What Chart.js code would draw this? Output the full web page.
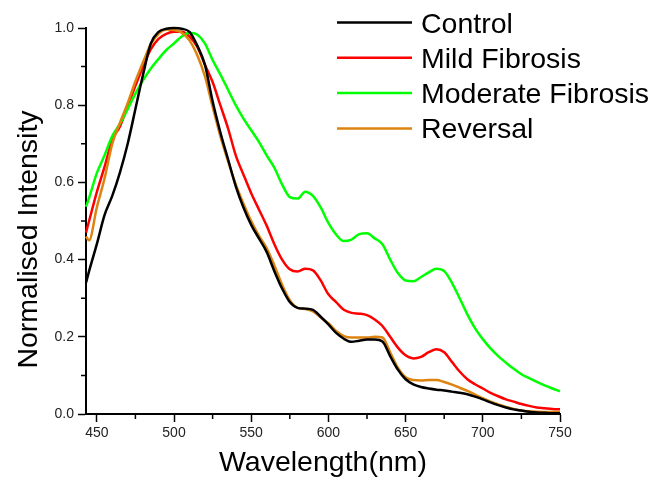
<!DOCTYPE html>
<html>
<head>
<meta charset="utf-8">
<script src="https://cdn.jsdelivr.net/npm/chart.js@4.4.1/dist/chart.umd.min.js"></script>
<style>
  html, body { margin: 0; padding: 0; background: #fff; }
  #wrap { position: relative; width: 653px; height: 481px; }
</style>
</head>
<body>
<div id="wrap"><canvas id="chart"></canvas></div>
<script>
// wavelength (nm) for every sample
const wavelengths = [443, 445, 450, 455, 460, 465, 470, 475, 480, 485, 490, 495, 500, 505, 510, 515, 520, 525, 530, 535,
    540, 545, 550, 555, 560, 565, 570, 575, 580, 585, 590, 595, 600, 605, 610, 615, 620, 625, 630, 635,
    640, 645, 650, 655, 660, 665, 670, 675, 680, 685, 690, 695, 700, 705, 710, 715, 720, 725, 730, 735,
    740, 745, 750];

const control = [0.34, 0.37, 0.44, 0.515, 0.565, 0.626, 0.70, 0.79, 0.88, 0.96, 0.99, 0.998, 1.0, 0.998, 0.99, 0.955, 0.905, 0.81, 0.73, 0.66,
    0.59, 0.535, 0.49, 0.455, 0.42, 0.37, 0.325, 0.29, 0.275, 0.273, 0.27, 0.252, 0.232, 0.21, 0.195, 0.187, 0.19, 0.193, 0.193, 0.188,
    0.15, 0.115, 0.09, 0.077, 0.07, 0.066, 0.063, 0.061, 0.058, 0.055, 0.051, 0.045, 0.038, 0.030, 0.023, 0.017, 0.012, 0.009, 0.006, 0.004,
    0.003, 0.002, 0.002];

const mildFibrosis = [0.47, 0.50, 0.575, 0.64, 0.71, 0.745, 0.797, 0.85, 0.90, 0.945, 0.972, 0.985, 0.99, 0.99, 0.978, 0.952, 0.905, 0.86, 0.80, 0.74,
    0.67, 0.62, 0.572, 0.53, 0.488, 0.44, 0.40, 0.375, 0.369, 0.376, 0.372, 0.346, 0.31, 0.29, 0.27, 0.262, 0.26, 0.256, 0.245, 0.228,
    0.20, 0.172, 0.152, 0.144, 0.148, 0.16, 0.168, 0.16, 0.135, 0.11, 0.09, 0.077, 0.066, 0.055, 0.046, 0.038, 0.032, 0.026, 0.021, 0.017,
    0.015, 0.013, 0.012];

const moderateFibrosis = [0.537, 0.56, 0.624, 0.67, 0.72, 0.752, 0.79, 0.83, 0.865, 0.895, 0.92, 0.943, 0.96, 0.978, 0.988, 0.983, 0.96, 0.917, 0.88, 0.84,
    0.80, 0.765, 0.735, 0.705, 0.67, 0.638, 0.595, 0.562, 0.558, 0.576, 0.565, 0.535, 0.495, 0.465, 0.448, 0.452, 0.466, 0.468, 0.455, 0.44,
    0.40, 0.365, 0.346, 0.344, 0.355, 0.367, 0.376, 0.37, 0.34, 0.30, 0.258, 0.222, 0.194, 0.17, 0.15, 0.133, 0.117, 0.103, 0.093, 0.083,
    0.074, 0.066, 0.059];

const reversal = [0.46, 0.45, 0.535, 0.61, 0.70, 0.755, 0.805, 0.862, 0.912, 0.958, 0.985, 0.996, 0.995, 0.988, 0.968, 0.93, 0.875, 0.796, 0.72, 0.655,
    0.595, 0.545, 0.50, 0.462, 0.43, 0.385, 0.335, 0.295, 0.275, 0.272, 0.266, 0.25, 0.235, 0.215, 0.202, 0.198, 0.198, 0.198, 0.2, 0.198,
    0.16, 0.12, 0.095, 0.088, 0.087, 0.088, 0.088, 0.083, 0.076, 0.068, 0.06, 0.05, 0.041, 0.032, 0.025, 0.018, 0.013, 0.009, 0.007, 0.006,
    0.005, 0.005, 0.005];

const seriesNames  = ['Control', 'Mild Fibrosis', 'Moderate Fibrosis', 'Reversal'];
const seriesColors = ['#000000', '#ff0000', '#00ff00', '#dd8410'];

const xTicks      = [450, 500, 550, 600, 650, 700, 750];
const xMinorTicks = [475, 525, 575, 625, 675, 725];
const yTicks      = [0, 0.2, 0.4, 0.6, 0.8, 1.0];
const yMinorTicks = [0.1, 0.3, 0.5, 0.7, 0.9];

const FONT = "'Liberation Sans', Arial, sans-serif";

const toPoints = vals => wavelengths.map((x, i) => ({ x, y: vals[i] }));
const allSeries = [control, mildFibrosis, moderateFibrosis, reversal];

const datasets = allSeries.map((vals, i) => ({
    label:            seriesNames[i],
    data:             toPoints(vals),
    borderColor:      seriesColors[i],
    backgroundColor:  seriesColors[i],
    borderWidth:      2.5,
    pointRadius:      0,
    cubicInterpolationMode: 'monotone',
    clip:             false,
    order:            i === 0 ? 0 : 4 - i,
}));

// minor tick marks, drawn outward like the major ones
const minorTicks = {
    id: 'minorTicks',
    afterDraw(chart) {
        const { ctx, scales: { x, y } } = chart;
        ctx.save();
        ctx.strokeStyle = '#000';
        ctx.lineWidth = 1.5;
        ctx.beginPath();
        for (const v of xMinorTicks) {
            const px = x.getPixelForValue(v);
            ctx.moveTo(px, x.top);
            ctx.lineTo(px, x.top + 5);
        }
        for (const v of yMinorTicks) {
            const py = y.getPixelForValue(v);
            ctx.moveTo(y.right, py);
            ctx.lineTo(y.right - 5, py);
        }
        ctx.stroke();
        ctx.restore();
    },
};

// y title sits a bit below the axis centre in the original, so place it by hand
const yTitle = {
    id: 'yTitle',
    afterDraw(chart) {
        const { ctx } = chart;
        ctx.save();
        ctx.font = `28.5px ${FONT}`;
        ctx.fillStyle = '#000';
        ctx.textAlign = 'center';
        ctx.textBaseline = 'alphabetic';
        ctx.translate(36.5, 239.5);
        ctx.rotate(-Math.PI / 2);
        ctx.fillText('Normalised Intensity', 0, 0);
        ctx.restore();
    },
};

// legend in the top right corner, overlapping the plot like the original
const cornerLegend = {
    id: 'cornerLegend',
    afterDraw(chart) {
        const { ctx } = chart;
        ctx.save();
        ctx.font = `28.5px ${FONT}`;
        ctx.textBaseline = 'alphabetic';
        chart.data.datasets.forEach((ds, i) => {
            const cy = 22.5 + i * 35.3;
            ctx.strokeStyle = ds.borderColor;
            ctx.lineWidth = 2.5;
            ctx.beginPath();
            ctx.moveTo(337, cy);
            ctx.lineTo(412, cy);
            ctx.stroke();
            ctx.fillStyle = '#000';
            ctx.fillText(ds.label, 421, cy + 10);
        });
        ctx.restore();
    },
};

new Chart(document.getElementById('chart'), {
    type: 'line',
    data: { datasets },
    options: {
        responsive:          true,
        maintainAspectRatio: false,
        animation:           false,
        layout: { padding: { left: 0, right: 93, top: 28, bottom: 0 } },
        plugins: {
            legend:  { display: false },
            tooltip: { enabled: false },
        },
        scales: {
            x: {
                type: 'linear',
                min:  443,
                max:  750,
                afterBuildTicks: s => { s.ticks = xTicks.map(v => ({ value: v })); },
                afterFit: s => { s.height = 67; },
                border: { color: '#000', width: 2 },
                grid:   { drawOnChartArea: false, drawTicks: true, tickLength: 8, tickColor: '#000', tickWidth: 1.5 },
                ticks:  { color: '#222', font: { family: FONT, size: 14 }, padding: 3, maxRotation: 0 },
                title:  { display: true, text: 'Wavelength(nm)', color: '#000', font: { family: FONT, size: 28.5 }, padding: { top: 0, bottom: 1 } },
            },
            y: {
                min: 0,
                max: 1.0,
                afterBuildTicks: s => { s.ticks = yTicks.map(v => ({ value: v })); },
                afterFit: s => { s.width = 86; },
                border: { color: '#000', width: 2 },
                grid:   { drawOnChartArea: false, drawTicks: true, tickLength: 8, tickColor: '#000', tickWidth: 1.5 },
                ticks:  { color: '#222', font: { family: FONT, size: 14 }, padding: 4, callback: v => v.toFixed(1) },
                title:  { display: false },
            },
        },
    },
    plugins: [minorTicks, yTitle, cornerLegend],
});
</script>
</body>
</html>
